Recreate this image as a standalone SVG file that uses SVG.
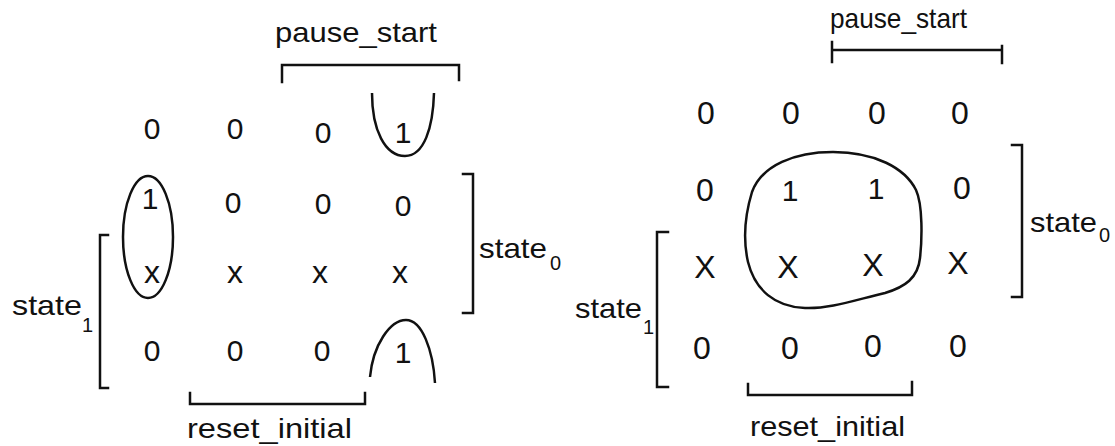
<svg xmlns="http://www.w3.org/2000/svg" width="1115" height="446" viewBox="0 0 1115 446">
<style>
.t{font-family:"Liberation Sans","DejaVu Sans",sans-serif;fill:#111}
.lbl{font-size:28px}
.sub{font-size:20px}
.cell{font-size:30px;text-anchor:middle}
.xs{font-size:32px;text-anchor:middle}
.big{font-size:32px;text-anchor:middle}
.ln{fill:none;stroke:#111;stroke-width:2.5;stroke-linecap:square}
.loop{fill:none;stroke:#111;stroke-width:2.5}
</style>
<rect width="1115" height="446" fill="#fff"/>

<g id="left-map">
  <g id="left-cells">
    <text class="t cell" x="152" y="139">0</text>
    <text class="t cell" x="235" y="139">0</text>
    <text class="t cell" x="323" y="143">0</text>
    <text class="t cell" x="403" y="143">1</text>
    <text class="t cell" x="150" y="209">1</text>
    <text class="t cell" x="233" y="213">0</text>
    <text class="t cell" x="323" y="214">0</text>
    <text class="t cell" x="403" y="216">0</text>
    <text class="t xs" x="152" y="283">x</text>
    <text class="t xs" x="235" y="283">x</text>
    <text class="t xs" x="320" y="283">x</text>
    <text class="t xs" x="400" y="283">x</text>
    <text class="t cell" x="152" y="361">0</text>
    <text class="t cell" x="235" y="361">0</text>
    <text class="t cell" x="322" y="361">0</text>
    <text class="t cell" x="403" y="363">1</text>
  </g>
  <g id="left-loops">
    <ellipse class="loop" cx="148" cy="237" rx="25" ry="61"/>
    <path class="loop" d="M372,93 C372,130 385,156 405,156 C424,156 433,128 434,93"/>
    <path class="loop" d="M370,377 C373,345 390,320 406,320 C422,320 433,350 435,383"/>
  </g>
  <g id="left-labels">
    <text class="t lbl" x="275" y="42" textLength="162" lengthAdjust="spacingAndGlyphs">pause_start</text>
    <text class="t lbl" x="479" y="258" textLength="68" lengthAdjust="spacingAndGlyphs">state</text>
    <text class="t sub" x="550" y="270">0</text>
    <text class="t lbl" x="12" y="315" textLength="70" lengthAdjust="spacingAndGlyphs">state</text>
    <text class="t sub" x="82" y="332">1</text>
    <text class="t lbl" x="187" y="438" textLength="165" lengthAdjust="spacingAndGlyphs">reset_initial</text>
  </g>
</g>

<g id="right-map">
  <g id="right-cells">
    <text class="t big" x="706" y="124">0</text>
    <text class="t big" x="791" y="124">0</text>
    <text class="t big" x="877" y="124">0</text>
    <text class="t big" x="960" y="124">0</text>
    <text class="t big" x="705" y="201">0</text>
    <text class="t cell" x="790" y="201">1</text>
    <text class="t cell" x="876" y="199">1</text>
    <text class="t big" x="962" y="199">0</text>
    <text class="t big" x="705" y="278">X</text>
    <text class="t big" x="788" y="278">X</text>
    <text class="t big" x="873" y="276">X</text>
    <text class="t big" x="958" y="274">X</text>
    <text class="t big" x="702" y="359">0</text>
    <text class="t big" x="790" y="359">0</text>
    <text class="t big" x="873" y="357">0</text>
    <text class="t big" x="958" y="357">0</text>
  </g>
  <g id="right-loops">
    <path class="loop" d="M833,152 C875,152 905,168 916,190 C923,205 922,240 920,258 C918,278 905,287 885,293 C855,300 830,309 805,308 C775,307 755,290 748,262 C743,240 745,215 752,192 C762,165 795,152 833,152 Z"/>
  </g>
  <g id="right-labels">
    <text class="t lbl" x="830" y="28" font-size="26" textLength="137" lengthAdjust="spacingAndGlyphs">pause_start</text>
    <text class="t lbl" x="1030" y="232" textLength="67" lengthAdjust="spacingAndGlyphs">state</text>
    <text class="t sub" x="1099" y="242">0</text>
    <text class="t lbl" x="575" y="318" textLength="67" lengthAdjust="spacingAndGlyphs">state</text>
    <text class="t sub" x="643" y="334">1</text>
    <text class="t lbl" x="750" y="436" textLength="155" lengthAdjust="spacingAndGlyphs">reset_initial</text>
  </g>
</g>

<g id="connectors">
  <path class="ln" d="M282,82 V65 H459 V80"/>
  <path class="ln" d="M463,174 H473 V313 H463"/>
  <path class="ln" d="M108,235 H100 V388 H108"/>
  <path class="ln" d="M190,393 V404 H365 V393"/>
  <path class="ln" d="M832,42 V62 M832,50 H1002 M1002,46 V63"/>
  <path class="ln" d="M1012,145 H1022 V297 H1012"/>
  <path class="ln" d="M668,232 H657 V387 H668"/>
  <path class="ln" d="M748,384 V395 H912 V382"/>
</g>
</svg>
